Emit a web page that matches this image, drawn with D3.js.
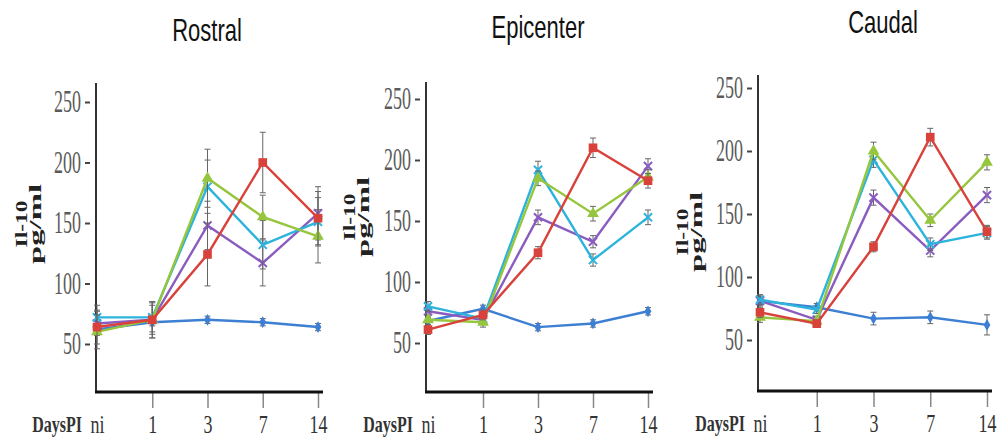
<!DOCTYPE html>
<html>
<head>
<meta charset="utf-8">
<script src="https://cdn.jsdelivr.net/npm/d3@7"></script>
<style>
  body { margin: 0; background: #fff; }
  svg { display: block; }
</style>
</head>
<body>
<script>
var W = 998, H = 448;

// data
var days = ["ni", "1", "3", "7", "14"];
var yTicks = [50, 100, 150, 200, 250];
var regions = ["Rostral", "Epicenter", "Caudal"];

var rostralBlue   = [62, 68, 70, 68, 64];
var rostralRed    = [64, 70, 124, 200, 154];
var rostralGreen  = [60, 70, 187, 155, 139];
var rostralCyan   = [72, 72, 180, 132, 151];
var rostralPurple = [67, 70, 148, 117, 158];

var epiBlue   = [68, 78, 63, 66, 76];
var epiRed    = [61, 73, 124, 210, 183];
var epiGreen  = [69, 67, 185, 156, 186];
var epiCyan   = [80, 70, 192, 118, 153];
var epiPurple = [76, 69, 153, 133, 195];

var caudalBlue   = [81, 76, 67, 68, 62];
var caudalRed    = [72, 63, 124, 211, 136];
var caudalGreen  = [68, 65, 200, 145, 191];
var caudalCyan   = [82, 74, 193, 126, 135];
var caudalPurple = [81, 66, 163, 121, 165];

// error bar half widths
var rostralBlueErr   = [3, 3, 3, 3, 3];
var rostralRedErr    = [14, 15, 26, 25, 22];
var rostralGreenErr  = [14, 15, 24, 18, 22];
var rostralCyanErr   = [10, 12, 22, 20, 20];
var rostralPurpleErr = [10, 12, 20, 19, 22];

var epiBlueErr   = [3, 3, 3, 3, 3];
var epiRedErr    = [4, 4, 5, 8, 6];
var epiGreenErr  = [4, 4, 6, 6, 6];
var epiCyanErr   = [4, 4, 7, 5, 6];
var epiPurpleErr = [4, 4, 6, 5, 6];

var caudalBlueErr   = [3, 3, 5, 5, 8];
var caudalRedErr    = [4, 3, 4, 7, 5];
var caudalGreenErr  = [4, 3, 7, 5, 6];
var caudalCyanErr   = [4, 3, 6, 5, 5];
var caudalPurpleErr = [4, 3, 6, 5, 6];

// drawing styles, order = draw order
var styles = [
  {color: "#3d7fd3", sym: d3.symbolDiamond, size: 40, stroke: false},
  {color: "#8a5cc0", sym: d3.symbolX, size: 45, stroke: true},
  {color: "#2db3dc", sym: d3.symbolX, size: 45, stroke: true},
  {color: "#95c63d", sym: d3.symbolTriangle, size: 60, stroke: false},
  {color: "#d9413b", sym: d3.symbolSquare, size: 75, stroke: false}
];

var panelSeries = [
  [[rostralBlue, rostralBlueErr], [rostralPurple, rostralPurpleErr], [rostralCyan, rostralCyanErr], [rostralGreen, rostralGreenErr], [rostralRed, rostralRedErr]],
  [[epiBlue, epiBlueErr], [epiPurple, epiPurpleErr], [epiCyan, epiCyanErr], [epiGreen, epiGreenErr], [epiRed, epiRedErr]],
  [[caudalBlue, caudalBlueErr], [caudalPurple, caudalPurpleErr], [caudalCyan, caudalCyanErr], [caudalGreen, caudalGreenErr], [caudalRed, caudalRedErr]]
];

// layout of each panel
var layout = [
  {axisX: 96,  top: 83, base: 392, right: 323, y50: 344, y250: 102, xNi: 97,  x14: 318, titleX: 207, titleY: 41, labX: 27,  labY: 224},
  {axisX: 426, top: 82, base: 392, right: 653, y50: 343, y250: 99,  xNi: 428, x14: 648, titleX: 538, titleY: 38, labX: 355, labY: 217},
  {axisX: 758, top: 75, base: 391, right: 992, y50: 340, y250: 88,  xNi: 760, x14: 987, titleX: 883, titleY: 33, labX: 688, labY: 232}
];

var svg = d3.select("body").append("svg")
    .attr("width", W)
    .attr("height", H);

var serif = "'Liberation Serif', 'Times New Roman', serif";

layout.forEach(function(L, p) {
  var g = svg.append("g");
  var x = d3.scalePoint().domain(days).range([L.xNi, L.x14]);
  var y = d3.scaleLinear().domain([50, 250]).range([L.y50, L.y250]);

  // title
  g.append("text")
      .attr("transform", `translate(${L.titleX}, ${L.titleY}) scale(1, 1.4)`)
      .attr("text-anchor", "middle")
      .style("font-family", "'Liberation Sans', Arial, sans-serif")
      .style("font-size", "22px")
      .attr("fill", "#111")
      .text(regions[p]);

  // y axis label
  var lab = g.append("g")
      .attr("transform", `translate(${L.labX}, ${L.labY}) rotate(-90)`)
      .style("font-family", serif)
      .style("font-weight", "bold")
      .style("font-size", "16px")
      .attr("fill", "#222");
  lab.append("text").attr("text-anchor", "middle").attr("y", 0)
      .attr("textLength", 47).attr("lengthAdjust", "spacingAndGlyphs").text("Il-10");
  lab.append("text").attr("text-anchor", "middle").attr("y", 14)
      .attr("textLength", 80).attr("lengthAdjust", "spacingAndGlyphs").text("pg/ml");

  // y axis
  var yAx = g.append("g")
      .attr("transform", `translate(${L.axisX}, 0)`)
      .call(d3.axisLeft(y).tickValues(yTicks).tickSize(0).tickPadding(15));
  yAx.select(".domain").remove();
  yAx.selectAll(".tick text")
      .attr("dy", "0.32em")
      .attr("transform", "scale(1, 1.7)")
      .style("font-family", serif)
      .style("font-size", "18px")
      .attr("fill", "#5a5a5a");
  yAx.selectAll(".tick").append("line")
      .attr("x1", -11).attr("x2", -6)
      .attr("stroke", "#444").attr("stroke-width", 2);
  g.append("line")
      .attr("x1", L.axisX).attr("x2", L.axisX)
      .attr("y1", L.top).attr("y2", L.base)
      .attr("stroke", "#333").attr("stroke-width", 2);

  // x axis
  var xAx = g.append("g")
      .attr("transform", `translate(0, ${L.base})`)
      .call(d3.axisBottom(x).tickSize(16).tickPadding(12));
  xAx.select(".domain").remove();
  xAx.selectAll(".tick line")
      .attr("stroke", function(d) { return d === "ni" ? "none" : "#888"; })
      .attr("stroke-width", 1.5);
  xAx.selectAll(".tick text")
      .attr("dy", "0.32em")
      .attr("y", 33)
      .attr("transform", "translate(0, 33) scale(1, 1.4) translate(0, -33)")
      .style("font-family", serif)
      .style("font-size", "18px")
      .attr("fill", "#333");
  g.append("text")
      .attr("transform", `translate(${L.xNi - 15}, ${L.base + 33}) scale(1, 1.4)`)
      .attr("dy", "0.32em")
      .attr("text-anchor", "end")
      .style("font-family", serif)
      .style("font-weight", "bold")
      .style("font-size", "16px")
      .attr("fill", "#333")
      .text("DaysPI");
  g.append("line")
      .attr("x1", L.axisX - 1).attr("x2", L.right)
      .attr("y1", L.base).attr("y2", L.base)
      .attr("stroke", "#111").attr("stroke-width", 3);

  // series
  var line = d3.line()
      .x(function(d, i) { return x(days[i]); })
      .y(function(d) { return y(d); });

  panelSeries[p].forEach(function(s, k) {
    var vals = s[0], errs = s[1], st = styles[k];
    var sg = g.append("g");

    // error bars
    vals.forEach(function(v, i) {
      var cx = x(days[i]);
      sg.append("line")
          .attr("x1", cx).attr("x2", cx)
          .attr("y1", y(v - errs[i])).attr("y2", y(v + errs[i]))
          .attr("stroke", "#666").attr("stroke-width", 1);
      [v - errs[i], v + errs[i]].forEach(function(e) {
        sg.append("line")
            .attr("x1", cx - 3).attr("x2", cx + 3)
            .attr("y1", y(e)).attr("y2", y(e))
            .attr("stroke", "#666").attr("stroke-width", 1);
      });
    });

    sg.append("path")
        .datum(vals)
        .attr("d", line)
        .attr("fill", "none")
        .attr("stroke", st.color)
        .attr("stroke-width", 2.4);

    sg.selectAll(".pt").data(vals).enter().append("path")
        .attr("class", "pt")
        .attr("transform", function(d, i) { return `translate(${x(days[i])}, ${y(d)})`; })
        .attr("d", d3.symbol().type(st.sym).size(st.size))
        .attr("fill", st.stroke ? "none" : st.color)
        .attr("stroke", st.color)
        .attr("stroke-width", st.stroke ? 2 : 0);
  });
});
</script>
</body>
</html>
